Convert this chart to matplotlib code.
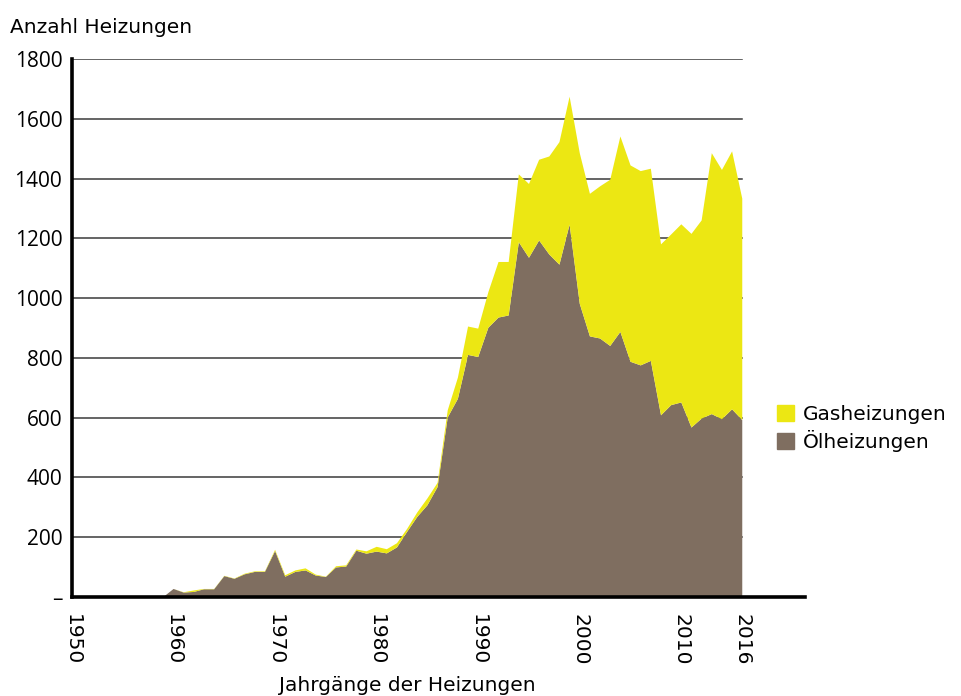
import numpy as np
import matplotlib.pyplot as plt
from matplotlib.patches import Patch

plt.rcParams['font.family'] = ['DejaVu Sans']

# Jahrgaenge
years = list(range(1957, 2017))

# Oelheizungen (unten, braun)
oel = [0, 0, 0, 27, 15, 17, 26, 26, 70, 61,
       76, 84, 84, 154, 68, 84, 89, 72, 67, 99,
       102, 155, 145, 152, 146, 166, 218, 268, 307, 368,
       601, 663, 810, 803, 901, 935, 942, 1187, 1135, 1193,
       1146, 1112, 1246, 981, 872, 865, 840, 887, 787, 775,
       790, 608, 642, 651, 567, 597, 612, 595, 628, 592]

# Oel + Gas (Oberkante gelb)
total = [0, 0, 0, 27, 16, 22, 27, 27, 71, 62,
         78, 86, 86, 158, 73, 89, 96, 75, 68, 103,
         106, 159, 153, 168, 160, 180, 228, 283, 330, 382,
         625, 734, 905, 898, 1020, 1121, 1121, 1414, 1382, 1463,
         1474, 1522, 1674, 1485, 1349, 1374, 1396, 1541, 1444, 1425,
         1433, 1180, 1213, 1247, 1215, 1260, 1485, 1429, 1491, 1333]

gas = [t - o for t, o in zip(total, oel)]

xticks = [1950, 1960, 1970, 1980, 1990, 2000, 2010, 2016]
yticks = [0, 200, 400, 600, 800, 1000, 1200, 1400, 1600, 1800]
ylabels = ['–'] + [str(v) for v in yticks[1:]]

c_gas = '#ECE713'
c_oel = '#7F6E60'

fig = plt.figure(figsize=(9.61, 6.96), dpi=100)
ax = fig.add_axes([0.0749, 0.1422, 0.763, 0.773])

# Gitternetz nur bis 2016
for v in yticks[1:]:
    ax.plot([1950, 2016], [v, v], color='#3a3a3a', lw=1.1, zorder=1)

ax.stackplot(years, oel, gas, colors=[c_oel, c_gas], zorder=2)

ax.set_xlim(1950, 2022.2)
ax.set_ylim(0, 1800)

ax.set_xticks(xticks)
ax.set_xticklabels([str(x) for x in xticks], rotation=270, fontsize=14.5,
                   family=['Liberation Sans Narrow', 'DejaVu Sans'])
ax.set_yticks(yticks)
ax.set_yticklabels(ylabels, fontsize=15, family=['Open Sans', 'DejaVu Sans'])
ax.tick_params(length=0, pad=7)
ax.tick_params(axis='x', pad=12)

for s in ['top', 'right']:
    ax.spines[s].set_visible(False)
ax.spines['left'].set_linewidth(2.6)
ax.spines['bottom'].set_linewidth(2.6)
ax.spines['left'].set_zorder(5)
ax.spines['bottom'].set_zorder(5)

fig.text(0.010, 0.960, 'Anzahl Heizungen', fontsize=14.5, ha='left', va='center')
fig.text(0.424, 0.0144, 'Jahrgänge der Heizungen', fontsize=14.5, ha='center', va='center')

handles = [Patch(color=c_gas), Patch(color=c_oel)]
fig.legend(handles, ['Gasheizungen', 'Ölheizungen'], loc='center left',
           bbox_to_anchor=(0.79, 0.384), frameon=False, fontsize=14.5,
           handlelength=0.85, handleheight=0.85, handletextpad=0.4,
           labelspacing=0.3)

fig.savefig('out.png', dpi=100)
